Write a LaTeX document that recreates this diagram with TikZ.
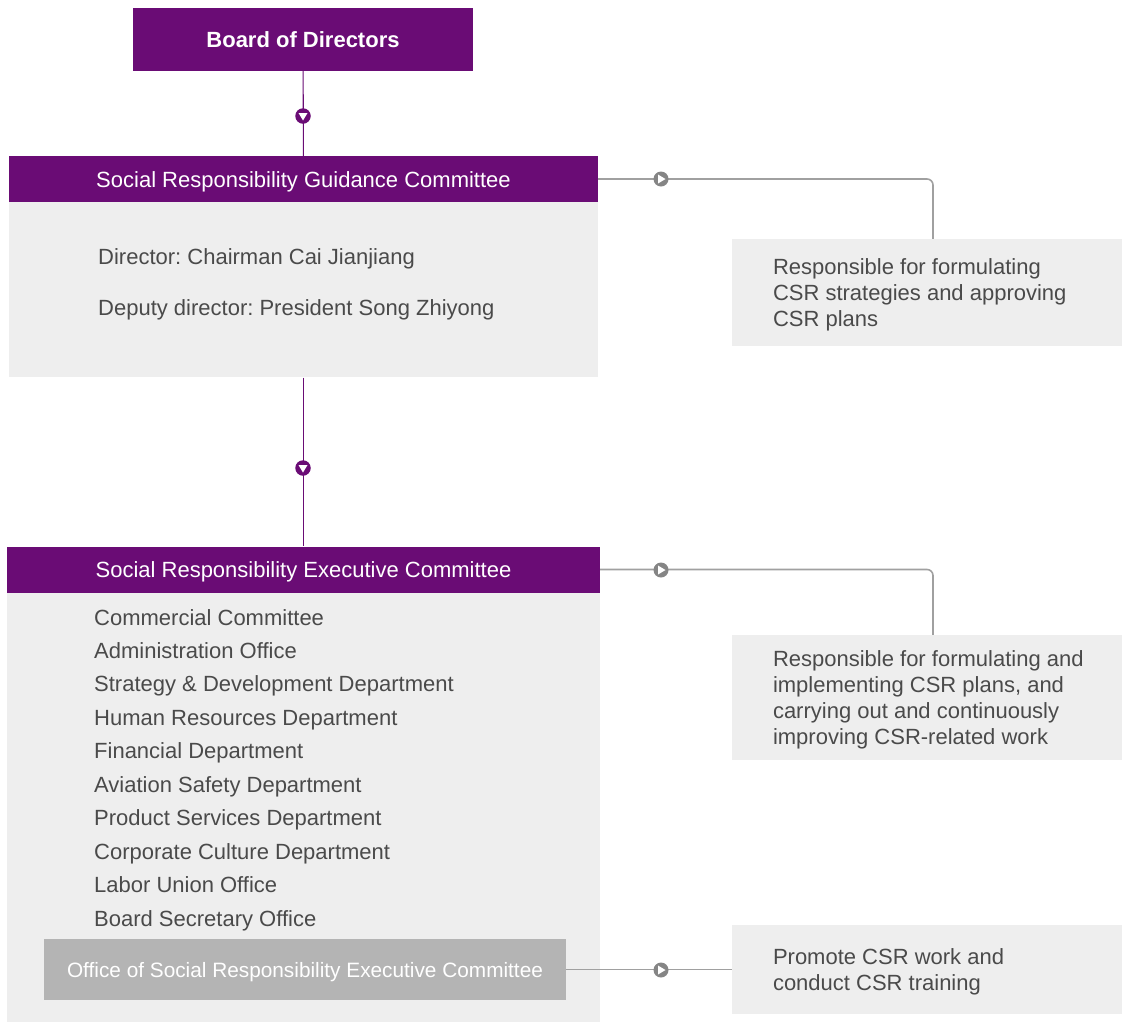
\documentclass[tikz,border=0pt]{standalone}
\usepackage{fontspec}
\setmainfont{Liberation Sans}
\usepackage{tikz}
\usetikzlibrary{positioning}
\frenchspacing

\definecolor{csrpurple}{HTML}{6A0C75}
\definecolor{csrpanel}{HTML}{EEEEEE}
\definecolor{csroffice}{HTML}{B4B4B4}
\definecolor{csrline}{HTML}{A0A0A0}
\definecolor{csrknob}{HTML}{858585}
\definecolor{csrtext}{HTML}{4A4A4A}

\tikzset{
  head/.style={fill=csrpurple, text=white, inner sep=0pt, minimum height=46, minimum width=589,
    text height=16pt, text depth=0pt, font=\fontsize{22}{26}\selectfont},
  panel/.style={fill=csrpanel, inner sep=0pt, minimum width=589},
  notebox/.style={fill=csrpanel, inner sep=0pt, minimum width=390},
  notetext/.style={anchor=west, text=csrtext, inner sep=0pt, align=left,
    font=\fontsize{22}{26}\selectfont},
  office/.style={fill=csroffice, text=white, inner sep=0pt, minimum width=522, minimum height=61,
    text height=15pt, text depth=0pt, font=\fontsize{20.8}{24}\selectfont},
  item/.style={anchor=base west, text=csrtext, inner sep=0pt, font=\fontsize{22}{26}\selectfont},
  link/.style={csrpurple, line width=1.1pt},
  glink/.style={csrline, line width=1.6pt, rounded corners=6pt},
  knobdown/.style={circle, fill=#1, minimum size=15.5, inner sep=0pt,
    path picture={\fill[white] ([shift={(-4.5,-3)}]path picture bounding box.center)
      -- ([shift={(4.5,-3)}]path picture bounding box.center)
      -- ([shift={(0,4.5)}]path picture bounding box.center) -- cycle;}},
  knobright/.style={circle, fill=#1, minimum size=15, inner sep=0pt,
    path picture={\fill[white] ([shift={(-3,-4.5)}]path picture bounding box.center)
      -- ([shift={(-3,4.5)}]path picture bounding box.center)
      -- ([shift={(4.5,0)}]path picture bounding box.center) -- cycle;}}
}

\begin{document}
\begin{tikzpicture}[x=1pt, y=-1pt]
\useasboundingbox (0,0) rectangle (1122,1021);

% boxes
\node (b1) [head, minimum width=340, minimum height=63, font=\fontsize{22}{26}\selectfont\bfseries]
  at (303,39.5) {Board of Directors};
\node (g1) [head] at (303.5,179) {Social Responsibility Guidance Committee};
\node (g2) [panel, minimum height=175, below=0pt of g1] {};
\node (e1) [head, minimum width=593] at (303.5,569.5) {Social Responsibility Executive Committee};
\node (e2) [panel, minimum width=593, minimum height=429, below=0pt of e1] {};
\node (o1) [office] at (305,969.5) {Office of Social Responsibility Executive Committee};

\node (r1) [notebox, minimum height=107] at (927,292.5) {};
\node (r2) [notebox, minimum height=125] at (927,697.5) {};
\node (r3) [notebox, minimum height=89] at (927,969.5) {};
\node (t1) [notetext] at ([xshift=41pt, yshift=-2pt]r1.west)
  {Responsible for formulating\\CSR strategies and approving\\CSR plans};
\node (t2) [notetext] at ([xshift=41pt, yshift=-2.5pt]r2.west)
  {Responsible for formulating and\\implementing CSR plans, and\\carrying out and continuously\\improving CSR-related work};
\node (t3) [notetext] at ([xshift=41pt, yshift=-2.5pt]r3.west)
  {Promote CSR work and\\conduct CSR training};

% texts in the panels
\node (d1) [item] at (98,264) {Director: Chairman Cai Jianjiang};
\node (d2) [item] at (98,315) {Deputy director: President Song Zhiyong};
\foreach \t [count=\i from 0] in {Commercial Committee, Administration Office,
    Strategy \& Development Department, Human Resources Department, Financial Department,
    Aviation Safety Department, Product Services Department, Corporate Culture Department,
    Labor Union Office, Board Secretary Office}
  \node (m\i) [item] at (94,625+33.45*\i) {\t};

% connectors
\draw [link] (b1) -- (g1);
\draw [link] (g2) -- (e1);
\draw [glink] (g1.east) -| ([xshift=6pt]r1.north);
\draw [glink] (e1.east) -| ([xshift=6pt]r2.north);
\draw [glink] (o1) -- (r3);

\node (k1) [knobdown=csrpurple] at (303,116) {};
\node (k2) [knobdown=csrpurple] at (303,468) {};
\node (k3) [knobright=csrknob] at (661,179) {};
\node (k4) [knobright=csrknob] at (661,570) {};
\node (k5) [knobright=csrknob] at (661,970) {};
\end{tikzpicture}
\end{document}
